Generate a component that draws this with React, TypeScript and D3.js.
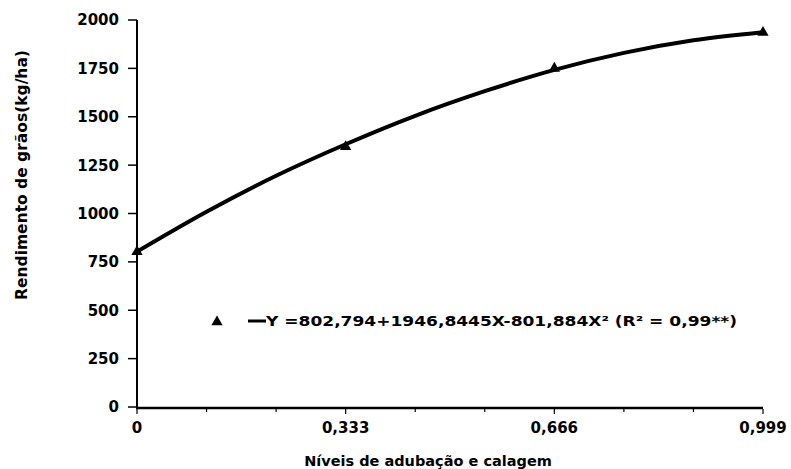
import React from "react";
import * as d3 from "d3";

const W = 791;
const H = 469;

// observed data points (triangles)
const pointX = [0, 0.333, 0.666, 0.999];
const pointY = [802, 1345, 1750, 1935];

// fitted curve
const curveX = [0, 0.111, 0.222, 0.333, 0.444, 0.555, 0.666, 0.777, 0.888, 0.999];
const curveY = [803, 1009, 1195, 1358, 1505, 1632, 1742, 1830, 1895, 1937];

const yTicks = [0, 250, 500, 750, 1000, 1250, 1500, 1750, 2000];
const xMinorTicks = [0, 0.111, 0.222, 0.333, 0.444, 0.555, 0.666, 0.777, 0.888, 0.999];
const xLabelTicks = [0, 0.333, 0.666, 0.999];
const xLabels = ["0", "0,333", "0,666", "0,999"];

const yTitle = "Rendimento de grãos(kg/ha)";
const xTitle = "Níveis de adubação e calagem";
const legendText = "Y =802,794+1946,8445X-801,884X²  (R² = 0,99**)";

const FONT = "'DejaVu Sans', Arial, sans-serif";

export default function App() {
  const x = d3.scaleLinear().domain([0, 0.999]).range([137, 763]);
  const y = d3.scaleLinear().domain([0, 2000]).range([407, 20]);

  const line = d3
    .line<number>()
    .x((_, i) => x(curveX[i]))
    .y((d) => y(d))
    .curve(d3.curveMonotoneX);

  const tri = d3.symbol().type(d3.symbolTriangle).size(55)();

  return (
    <svg
      width={W}
      height={H}
      style={{ position: "absolute", left: 0, top: 0, background: "#fff" }}
      fontFamily={FONT}
      fontWeight="bold"
    >
      <rect x={0} y={0} width={W} height={H} fill="#fff" />
      {/* y axis */}
      <line x1={x(0)} x2={x(0)} y1={y(2000)} y2={y(0) + 1} stroke="#000" strokeWidth={2} />
      {yTicks.map((t) => (
        <g key={t}>
          <line x1={x(0) - 9} x2={x(0)} y1={y(t)} y2={y(t)} stroke="#000" strokeWidth={1.5} />
          <text x={119} y={y(t)} dy="0.36em" textAnchor="end" fontSize={15}>
            {t}
          </text>
        </g>
      ))}
      {/* x axis */}
      <line x1={x(0) - 1} x2={x(0.999)} y1={y(0) + 1} y2={y(0) + 1} stroke="#000" strokeWidth={2.5} />
      {xMinorTicks.map((t, i) => (
        <line
          key={i}
          x1={x(t)}
          x2={x(t)}
          y1={y(0) + 2}
          y2={y(0) + (i % 3 === 0 ? 7 : 5)}
          stroke="#000"
          strokeWidth={1.2}
        />
      ))}
      {xLabelTicks.map((t, i) => (
        <text key={t} x={x(t)} y={433} textAnchor="middle" fontSize={15}>
          {xLabels[i]}
        </text>
      ))}
      {/* titles */}
      <text x={428} y={466} textAnchor="middle" fontSize={14.5}>
        {xTitle}
      </text>
      <text transform={`translate(27,175) rotate(-90)`} textAnchor="middle" fontSize={15.5}>
        {yTitle}
      </text>
      {/* curve */}
      <path d={line(curveY) || ""} fill="none" stroke="#000" strokeWidth={4} strokeLinecap="round" />
      {/* points */}
      {pointX.map((px, i) => (
        <path key={i} d={tri || ""} transform={`translate(${x(px)},${y(pointY[i])})`} fill="#000" />
      ))}
      {/* legend */}
      <path d={tri || ""} transform="translate(217,322)" fill="#000" />
      <line x1={248} x2={266} y1={321} y2={321} stroke="#000" strokeWidth={3} />
      <text x={266} y={326} fontSize={14} textLength={471} lengthAdjust="spacingAndGlyphs">
        {legendText}
      </text>
    </svg>
  );
}
